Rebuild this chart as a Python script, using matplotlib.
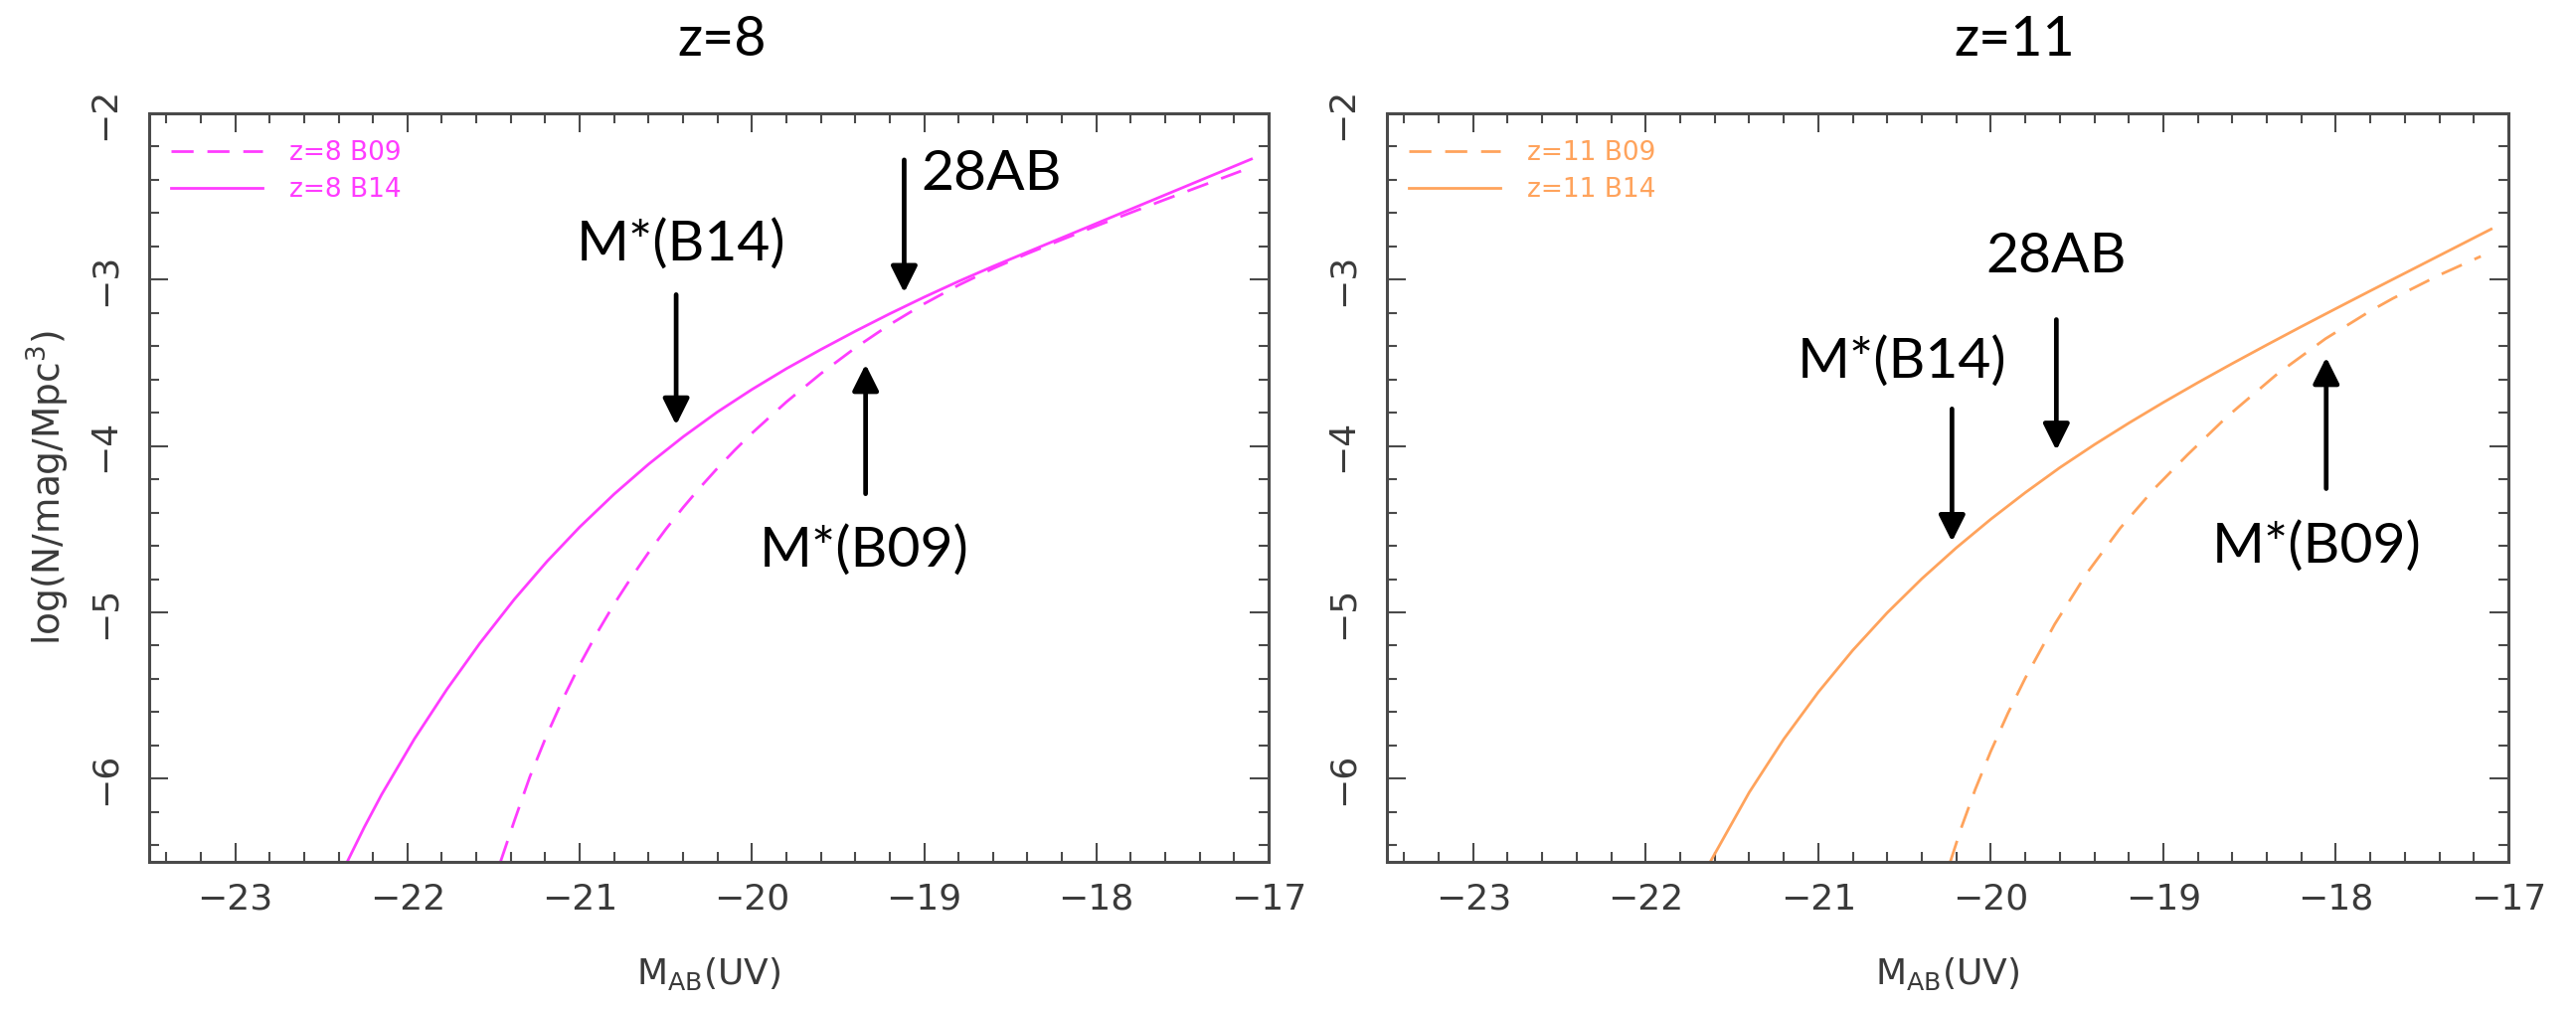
import matplotlib.pyplot as plt
from matplotlib.ticker import MultipleLocator

# ---- data (log number density vs M_AB(UV)) ----
z8_b14_mag = [-22.35, -22.25, -22.15, -21.96, -21.77, -21.58, -21.38, -21.19,
              -21.00, -20.80, -20.60, -20.40, -20.20, -20.00, -19.80, -19.60,
              -19.40, -19.20, -19.00, -18.80, -18.60, -18.40, -18.20, -18.00,
              -17.80, -17.60, -17.40, -17.20, -17.10]
z8_b14_logphi = [-6.50, -6.29, -6.095, -5.761, -5.461, -5.186, -4.922, -4.694,
                 -4.487, -4.289, -4.109, -3.945, -3.795, -3.66, -3.535, -3.42,
                 -3.31, -3.205, -3.105, -3.01, -2.92, -2.834, -2.748, -2.662,
                 -2.576, -2.49, -2.404, -2.318, -2.275]

z8_b09_mag = [-21.46, -21.38, -21.29, -21.19, -21.09, -21.00, -20.90, -20.80,
              -20.70, -20.60, -20.50, -20.40, -20.30, -20.20, -20.10, -20.00,
              -19.80, -19.60, -19.40, -19.20, -19.00, -18.80, -18.60, -18.40,
              -18.20, -18.00, -17.80, -17.60, -17.40, -17.16]
z8_b09_logphi = [-6.50, -6.255, -5.99, -5.735, -5.505, -5.315, -5.125, -4.95,
                 -4.79, -4.64, -4.50, -4.37, -4.248, -4.133, -4.025, -3.923,
                 -3.735, -3.565, -3.41, -3.27, -3.145, -3.033, -2.933, -2.843,
                 -2.759, -2.677, -2.597, -2.518, -2.44, -2.347]

z11_b14_mag = [-21.626, -21.40, -21.20, -21.00, -20.80, -20.60, -20.40, -20.20,
               -20.00, -19.80, -19.60, -19.40, -19.20, -19.00, -18.80, -18.60,
               -18.40, -18.20, -18.00, -17.80, -17.60, -17.40, -17.20, -17.10]
z11_b14_logphi = [-6.50, -6.082, -5.762, -5.48, -5.228, -5.002, -4.798, -4.612,
                  -4.44, -4.28, -4.13, -3.992, -3.862, -3.738, -3.619, -3.504,
                  -3.392, -3.282, -3.174, -3.067, -2.961, -2.855, -2.749, -2.696]

z11_b09_mag = [-20.235, -20.17, -20.09, -20.00, -19.90, -19.80, -19.63, -19.44,
               -19.25, -19.05, -18.86, -18.63, -18.34, -18.06, -17.80, -17.67,
               -17.40, -17.16]
z11_b09_logphi = [-6.50, -6.292, -6.064, -5.835, -5.605, -5.395, -5.072, -4.76,
                  -4.494, -4.254, -4.053, -3.823, -3.567, -3.355, -3.188, -3.113,
                  -2.972, -2.86]

# labelled arrows: (label, text x, text baseline y, arrow x, arrow tail y, arrow tip y)
marks_z8 = [
    ("M*(B14)", -20.41, -2.88, -20.44, -3.09, -3.874),
    ("28AB", -18.61, -2.461, -19.116, -2.28, -3.078),
    ("M*(B09)", -19.35, -4.725, -19.34, -4.287, -3.509),
]
marks_z11 = [
    ("M*(B14)", -20.515, -3.587, -20.225, -3.777, -4.575),
    ("28AB", -19.62, -2.958, -19.62, -3.24, -4.026),
    ("M*(B09)", -18.11, -4.70, -18.056, -4.256, -3.467),
]

MAGENTA = "#ff3cff"
ORANGE = "#ffa35c"
AXCOL = "#4a4a4a"
TXTCOL = "#3a3a3a"

panels = [
    dict(z="8", color=MAGENTA, b09=(z8_b09_mag, z8_b09_logphi),
         b14=(z8_b14_mag, z8_b14_logphi), marks=marks_z8, title_x=726),
    dict(z="11", color=ORANGE, b09=(z11_b09_mag, z11_b09_logphi),
         b14=(z11_b14_mag, z11_b14_logphi), marks=marks_z11, title_x=2026),
]

W, H = 2591, 1015
fig = plt.figure(figsize=(W / 100, H / 100), dpi=100)

ax_boxes = [(150, 1276), (1395, 2523)]
top_px, bot_px = 114, 867

for i, (p, (x0, x1)) in enumerate(zip(panels, ax_boxes)):
    ax = fig.add_axes([x0 / W, 1 - bot_px / H, (x1 - x0) / W, (bot_px - top_px) / H])

    ax.plot(*p["b09"], color=p["color"], lw=2, dashes=(8, 5), label=f"z={p['z']} B09")
    ax.plot(*p["b14"], color=p["color"], lw=2, label=f"z={p['z']} B14")

    ax.set_xlim(-23.5, -17)
    ax.set_ylim(-6.5, -2)
    ax.xaxis.set_major_locator(MultipleLocator(1))
    ax.xaxis.set_minor_locator(MultipleLocator(0.2))
    ax.yaxis.set_major_locator(MultipleLocator(1))
    ax.yaxis.set_minor_locator(MultipleLocator(0.2))

    ax.tick_params(which="both", direction="in", top=True, right=True,
                   color=AXCOL, width=1.5)
    ax.tick_params(which="major", length=14)
    ax.tick_params(which="minor", length=7)
    ax.tick_params(axis="x", labelsize=26, pad=15, labelcolor=TXTCOL)
    ax.tick_params(axis="y", labelsize=26, pad=20, labelcolor=TXTCOL,
                   labelrotation=90)
    for lab in ax.get_yticklabels():
        lab.set_va("center")
    for s in ax.spines.values():
        s.set_color(AXCOL)
        s.set_linewidth(2.2)

    ax.set_xlabel(r"$\mathregular{M_{AB}(UV)}$", fontsize=26, color=TXTCOL)
    ax.xaxis.set_label_coords(0.5, -0.125)
    if i == 0:
        ax.set_ylabel(r"log(N/mag/Mpc$^3$)", fontsize=27, color=TXTCOL)
        ax.yaxis.set_label_coords(-0.069, 0.5)

    ax.legend(loc="upper left", bbox_to_anchor=(0.0195, 0.964),
              frameon=False, fontsize=19, handlelength=3.5,
              handletextpad=1.0, labelspacing=0.42, borderpad=0,
              borderaxespad=0, labelcolor="linecolor")

    for label, tx, ty, axx, y_tail, y_tip in p["marks"]:
        ax.text(tx, ty, label, fontsize=41, family="Lato", ha="center",
                va="baseline", color="black")
        ax.annotate("", xy=(axx, y_tip), xytext=(axx, y_tail),
                    arrowprops=dict(arrowstyle="-|>,head_length=0.8,head_width=0.4",
                                    lw=3.4, color="black", mutation_scale=20,
                                    shrinkA=0, shrinkB=0))

    fig.text(p["title_x"] / W, 1 - 40 / H, f"z={p['z']}", fontsize=40,
             family="Lato", ha="center", va="center", color="black")

fig.savefig("out.png", dpi=100)
